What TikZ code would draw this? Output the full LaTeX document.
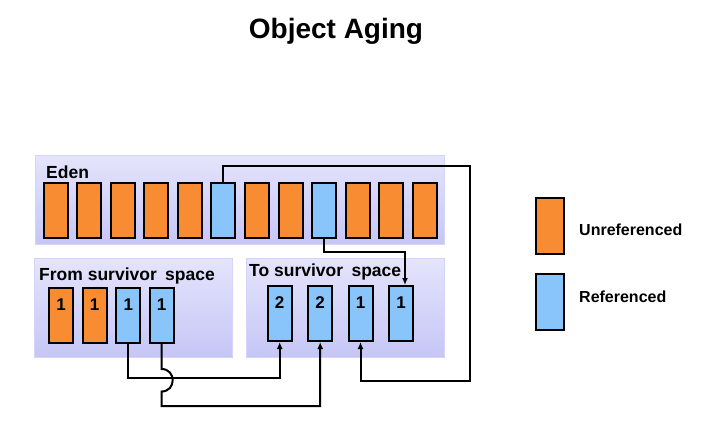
\documentclass[tikz,border=0pt]{standalone}
\usepackage{fontspec}
\setmainfont{Liberation Sans}
\usetikzlibrary{arrows.meta}
\definecolor{orng}{RGB}{248,140,50}
\definecolor{lblue}{RGB}{137,197,250}
\definecolor{pantop}{RGB}{228,228,252}
\definecolor{panbot}{RGB}{198,198,246}
\definecolor{panedge}{RGB}{212,212,250}
\tikzset{
  panel/.style={draw=panedge, line width=1.5pt, top color=pantop, bottom color=panbot, inner sep=0pt},
  obj/.style={draw=black, line width=2pt, minimum width=24pt, minimum height=55pt, inner sep=0pt},
  unref/.style={obj, fill=orng},
  ref/.style={obj, fill=lblue},
  num/.style={anchor=base, inner sep=0pt, font=\fontsize{17}{17}\selectfont\bfseries},
  lbl/.style={anchor=base west, inner sep=0pt, font=\fontsize{17.5}{18}\selectfont\bfseries},
  legtxt/.style={anchor=west, inner sep=0pt, font=\fontsize{16}{16}\selectfont\bfseries},
  conn/.style={line width=2pt, line join=miter},
  arr/.style={conn, -{Latex[length=7pt,width=6pt]}}
}
\begin{document}
\begin{tikzpicture}[x=1pt,y=-1pt]
\useasboundingbox (0,0) rectangle (721,424);
% title
\node[anchor=base, inner sep=0pt, font=\fontsize{28}{28}\selectfont\bfseries] (title) at (336,38) {Object Aging};
% panels
\node[panel, minimum width=409pt, minimum height=89pt] (eden) at (240,200) {};
\node[panel, minimum width=198pt, minimum height=99pt] (from) at (133.5,308) {};
\node[panel, minimum width=198pt, minimum height=99pt] (to) at (345.5,308) {};
\node[lbl] (edenlbl) at (46,178) {Eden};
\node[lbl] (fromlbl) at (39,280.5) {From survivor\hspace{3.5pt} space};
\node[lbl] (tolbl) at (249,276.5) {To survivor\hspace{3.5pt} space};
% eden objects
\node[unref] (e1) at (55.7,210.5) {};
\node[unref] (e2) at (89.25,210.5) {};
\node[unref] (e3) at (122.8,210.5) {};
\node[unref] (e4) at (156.35,210.5) {};
\node[unref] (e5) at (189.9,210.5) {};
\node[ref]   (e6) at (223.45,210.5) {};
\node[unref] (e7) at (257.0,210.5) {};
\node[unref] (e8) at (290.55,210.5) {};
\node[ref]   (e9) at (324.1,210.5) {};
\node[unref] (e10) at (357.65,210.5) {};
\node[unref] (e11) at (391.2,210.5) {};
\node[unref] (e12) at (424.75,210.5) {};
% from survivor objects
\node[unref] (f1) at (61,315) {};
\node[unref] (f2) at (94.5,315) {};
\node[ref]   (f3) at (128.3,315) {};
\node[ref]   (f4) at (161.5,315) {};
\node[num] (nf1) at (61,310) {1};
\node[num] (nf2) at (94.5,310) {1};
\node[num] (nf3) at (128.3,310) {1};
\node[num] (nf4) at (161.5,310) {1};
% to survivor objects
\node[ref] (t1) at (279.7,313.5) {};
\node[ref] (t2) at (320.2,313.5) {};
\node[ref] (t3) at (360.5,313.5) {};
\node[ref] (t4) at (401,313.5) {};
\node[num] (nt1) at (279.7,308.5) {2};
\node[num] (nt2) at (320.2,308.5) {2};
\node[num] (nt3) at (360.5,308.5) {1};
\node[num] (nt4) at (401,308.5) {1};
% legend
\node[unref, minimum width=28pt, minimum height=56pt] (legU) at (550,226) {};
\node[ref, minimum width=28pt, minimum height=56pt] (legR) at (550,301.7) {};
\node[legtxt] (legUt) at (579,230) {Unreferenced};
\node[legtxt] (legRt) at (579,296.7) {Referenced};
% connectors
\coordinate (k1) at (470,166);
\coordinate (k2) at (470,381);
\coordinate (k3) at (405,251.5);
\coordinate (k4) at (279.7,378);
\coordinate (k5) at (161.5,369);
\coordinate (k6) at (161.5,391.5);
\coordinate (k7) at (320.2,406);
\draw[arr] (e6.north) |- (k1) -- (k2) -| (t3.south);
\draw[arr] (e9.south) |- (k3) -- ([xshift=4pt]t4.north);
\draw[arr] (f3.south) |- (k4) -- (t1.south);
\draw[arr] (f4.south) -- (k5) to[out=0,in=0,looseness=1.7] (k6) |- (k7) -- (t2.south);
\end{tikzpicture}
\end{document}
